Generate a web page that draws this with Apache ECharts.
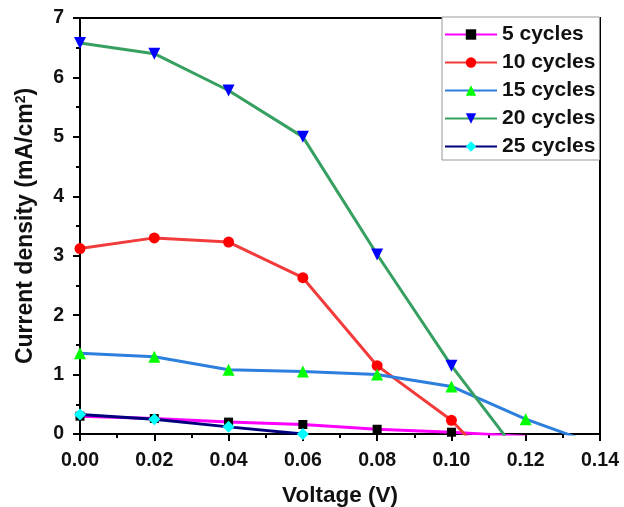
<!DOCTYPE html>
<html><head><meta charset="utf-8">
<script src="https://cdn.jsdelivr.net/npm/echarts@6/dist/echarts.min.js"></script>
<style>html,body{margin:0;padding:0;background:#fff}#c{width:624px;height:507px}</style>
</head><body><div id="c"></div>
<script>
const voltage = [0, 0.02, 0.04, 0.06, 0.08, 0.10, 0.12, 0.14];
const cycles5 = [0.30, 0.26, 0.20, 0.16, 0.08, 0.03, -0.04];
const cycles10 = [3.12, 3.30, 3.23, 2.63, 1.15, 0.23, -1.08];
const cycles15 = [1.36, 1.30, 1.08, 1.05, 1.00, 0.80, 0.25, -0.20];
const cycles20 = [6.58, 6.40, 5.78, 5.00, 3.02, 1.15, -0.49];
const cycles25 = [0.33, 0.25, 0.12, 0.00];
const seriesNames = ['5 cycles', '10 cycles', '15 cycles', '20 cycles', '25 cycles'];
const xTicks = ['0.00','0.02','0.04','0.06','0.08','0.10','0.12','0.14'];

const font = 'Liberation Sans, Arial, sans-serif';
function pairs(vals){ return vals.map((v,i)=>[voltage[i], v]); }
const defs = [
  {data: cycles5, line:'#ff00ff', mark:'#000000', symbol:'rect', size:9},
  {data: cycles10, line:'#f23b3b', mark:'#ff0000', symbol:'circle', size:11},
  {data: cycles15, line:'#2c7fdc', mark:'#00ff00', symbol:'triangle', size:12},
  {data: cycles20, line:'#36a060', mark:'#0000ff', symbol:'path://M0,0 L10,0 L5,9 Z', size:12},
  {data: cycles25, line:'#00007f', mark:'#00ffff', symbol:'diamond', size:12}
];
const chart = echarts.init(document.getElementById('c'));
chart.setOption({
  animation: false,
  backgroundColor: '#fff',
  grid: {left: 80, right: 24, top: 18, bottom: 73, show: true, borderColor: '#000', borderWidth: 2,
    containLabel: false, outerBoundsMode: 'none'},
  legend: {
    orient: 'vertical', left: 442, top: 17,
    backgroundColor: '#fff',
    borderColor: '#999', borderWidth: 1,
    padding: [7, 4, 3, 2], itemGap: 7, itemWidth: 52, itemHeight: 13,
    textStyle: {fontFamily: font, fontWeight: 'bold', fontSize: 21, color: '#111'},
    data: seriesNames
  },
  xAxis: {
    type: 'value', min: 0, max: 0.14, interval: 0.02,
    name: 'Voltage (V)', nameLocation: 'middle', nameGap: 50,
    nameTextStyle: {fontFamily: font, fontWeight: 'bold', fontSize: 22.5, color: '#111'},
    axisLine: {lineStyle: {color: '#000', width: 2}},
    axisTick: {length: 7, lineStyle: {width: 2, color: '#000'}},
    minorTick: {show: true, splitNumber: 2, length: 4, lineStyle: {width: 2, color: '#000'}},
    splitLine: {show: false},
    axisLabel: {fontFamily: font, fontWeight: 'bold', fontSize: 19.5, color: '#111', margin: 17,
      formatter: (v) => xTicks[Math.round(v / 0.02)] || v.toFixed(2)}
  },
  yAxis: {
    type: 'value', min: 0, max: 7, interval: 1,
    name: 'Current density (mA/cm{s|2})', nameLocation: 'middle', nameGap: 42, nameRotate: 90,
    nameTextStyle: {fontFamily: font, fontWeight: 'bold', fontSize: 23, color: '#111',
      rich: {s: {fontFamily: font, fontWeight: 'bold', fontSize: 14, verticalAlign: 'top', padding: [0,0,10,0], color: '#111'}}},
    axisLine: {lineStyle: {color: '#000', width: 2}},
    axisTick: {length: 7, lineStyle: {width: 2, color: '#000'}},
    minorTick: {show: true, splitNumber: 2, length: 4, lineStyle: {width: 2, color: '#000'}},
    splitLine: {show: false},
    axisLabel: {fontFamily: font, fontWeight: 'bold', fontSize: 19.5, color: '#111', margin: 16}
  },
  series: defs.map((d, i) => ({
    name: seriesNames[i], type: 'line', data: pairs(d.data), clip: true,
    symbol: d.symbol, symbolSize: d.size, showAllSymbol: true,
    lineStyle: {color: d.line, width: 3},
    itemStyle: {color: d.mark, borderWidth: 0},
    color: d.line,
    z: 2 + i
  }))
});
</script></body></html>
